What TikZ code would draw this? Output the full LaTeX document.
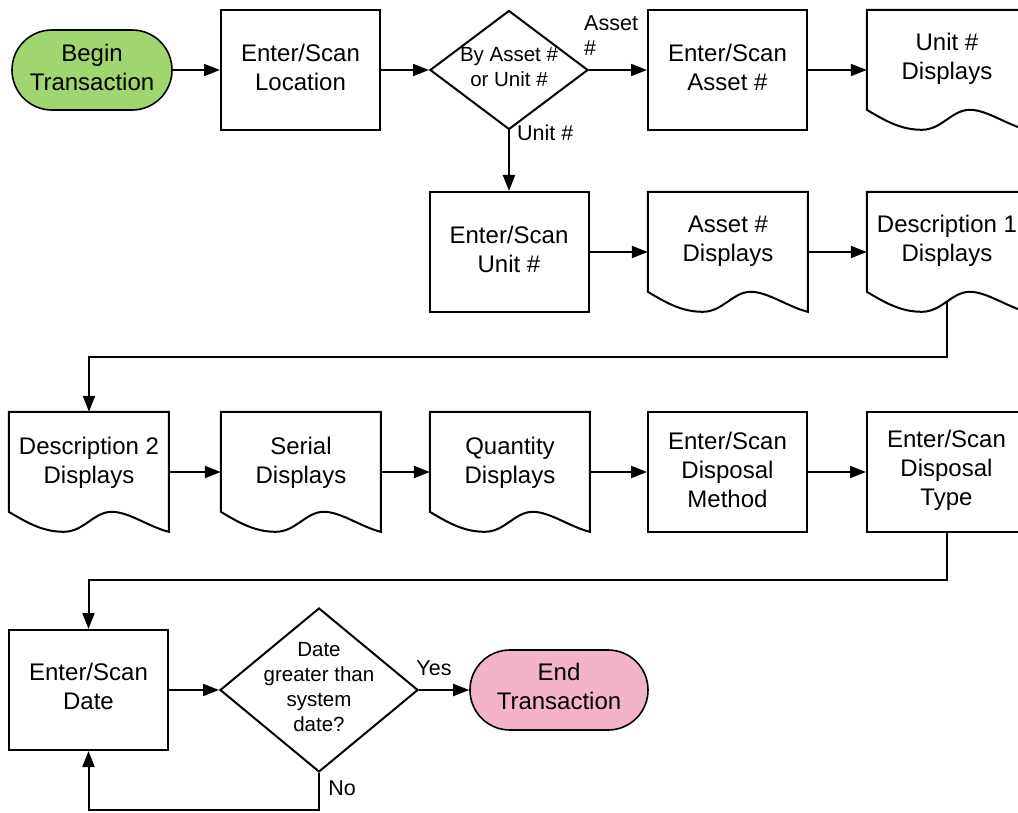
\documentclass[tikz,border=0pt]{standalone}
\usepackage{fontspec}
\setmainfont{Liberation Sans}
\usetikzlibrary{shapes.geometric,arrows.meta,calc}
\definecolor{begingreen}{RGB}{160,214,112}
\definecolor{endpink}{RGB}{244,180,199}
\newcommand\docshape[1]{\draw[outline, shift={(#1.north west)}] (0,0) -- (160,0) -- (160,120) .. controls (140,115) and (120,100) .. (103,100) .. controls (85,100) and (75,120) .. (55,120) .. controls (35,120) and (20,112) .. (0,100) -- cycle;}
\begin{document}
\begin{tikzpicture}[x=1pt,y=-1pt,
  every node/.style={font=\fontsize{24}{29}\selectfont, align=center, inner sep=0pt},
  outline/.style={line width=2pt, line join=miter},
  box/.style={draw, outline, minimum width=159pt, minimum height=120pt},
  docbox/.style={minimum width=160pt, minimum height=120pt},
  term/.style={draw, line width=1.6pt, rounded corners=39.9pt, minimum width=160pt, minimum height=80pt},
  dtext/.style={font=\fontsize{20.5}{25}\selectfont},
  lbl/.style={font=\fontsize{21.5}{25}\selectfont},
  arr/.style={line width=2pt, -{Triangle[length=16pt,width=12pt]}}
]
\useasboundingbox (0,0) rectangle (1018,813);
% row 1
\node[term, fill=begingreen] (begin) at (92,70) {};
\node (begint) at ($(begin.center)+(0,-3)$) {Begin\\Transaction};
\node[box] (loc) at (300.5,70) {};
\node (loct) at ($(loc.center)+(0,-3)$) {Enter/Scan\\Location};
\node[draw, outline, diamond, minimum width=158pt, minimum height=119pt] (q1) at (509,70) {};
\node[dtext] (q1t) at (509,67.5) {By Asset \#\\or Unit \#};
\node[box] (easset) at (727.5,70) {};
\node (eassett) at ($(easset.center)+(0,-3)$) {Enter/Scan\\Asset \#};
\node[docbox] (udisp) at (947,70) {};
\docshape{udisp}
\node (udispt) at ($(udisp.center)+(0,-11)$) {Unit \#\\Displays};
% row 2
\node[box] (eunit) at (509,252) {};
\node (eunitt) at ($(eunit.center)+(0,-3)$) {Enter/Scan\\Unit \#};
\node[docbox] (adisp) at (728,252) {};
\docshape{adisp}
\node (adispt) at ($(adisp.center)+(0,-11)$) {Asset \#\\Displays};
\node[docbox] (d1) at (947,252) {};
\docshape{d1}
\node (d1t) at ($(d1.center)+(0,-11)$) {Description 1\\Displays};
% row 3
\node[docbox] (d2) at (89,472) {};
\docshape{d2}
\node (d2t) at ($(d2.center)+(0,-9)$) {Description 2\\Displays};
\node[docbox] (ser) at (301,472) {};
\docshape{ser}
\node (sert) at ($(ser.center)+(0,-9)$) {Serial\\Displays};
\node[docbox] (qty) at (510,472) {};
\docshape{qty}
\node (qtyt) at ($(qty.center)+(0,-9)$) {Quantity\\Displays};
\node[box] (meth) at (727.5,472) {};
\node (metht) at ($(meth.center)+(0,-2)$) {Enter/Scan\\Disposal\\Method};
\node[box] (typ) at (946.5,472) {};
\node (typt) at ($(typ.center)+(0,-2)$) {Enter/Scan\\Disposal\\Type};
% row 4
\node[box] (date) at (88.5,690) {};
\node (datet) at ($(date.center)+(0,-4)$) {Enter/Scan\\Date};
\node[draw, outline, diamond, minimum width=198pt, minimum height=164pt] (q2) at (319,690) {};
\node[dtext] (q2t) at (319,687) {Date\\greater than\\system\\date?};
\node[term, fill=endpink, minimum width=178pt] (end) at (559,690) {};
\node (endt) at ($(end.center)+(0,-4)$) {End\\Transaction};
% connectors
\draw[arr] (begin.east) -- (loc.west);
\draw[arr] (loc.east) -- (q1.west);
\draw[arr] (q1.east) -- (easset.west);
\draw[arr] (easset.east) -- (udisp.west);
\draw[arr] (q1.south) -- (eunit.north);
\draw[arr] (eunit.east) -- (adisp.west);
\draw[arr] (adisp.east) -- (d1.west);
\coordinate (r1) at (500,357);
\draw[arr] ($(d1.south)+(0,-10)$) |- (r1) -| (d2.north);
\draw[arr] (d2.east) -- (ser.west);
\draw[arr] (ser.east) -- (qty.west);
\draw[arr] (qty.east) -- (meth.west);
\draw[arr] (meth.east) -- (typ.west);
\coordinate (r2) at (500,580);
\draw[arr] (typ.south) |- (r2) -| (date.north);
\draw[arr] (date.east) -- (q2.west);
\draw[arr] (q2.east) -- (end.west);
\coordinate (r3) at (200,810);
\draw[arr] (q2.south) |- (r3) -| (date.south);
% labels
\node[lbl, anchor=west, align=left] (lasset) at (584,36) {Asset\\\#};
\node[lbl, anchor=west] (lunit) at (517,133) {Unit \#};
\node[lbl] (lyes) at (434,668) {Yes};
\node[lbl] (lno) at (342,788) {No};
\end{tikzpicture}
\end{document}
